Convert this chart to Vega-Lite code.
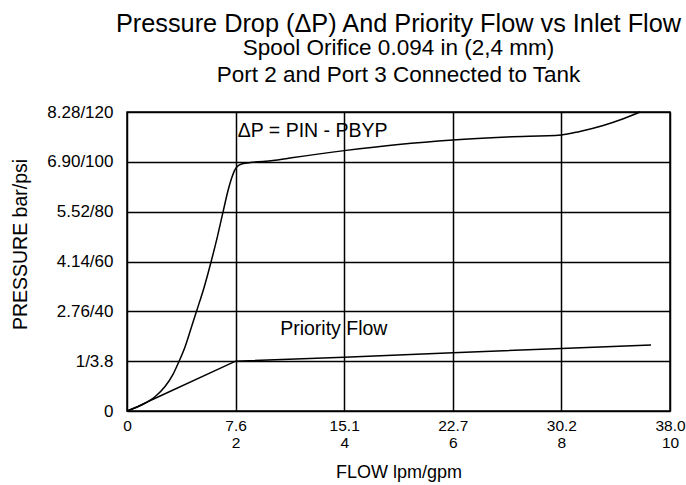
{
  "$schema": "https://vega.github.io/schema/vega-lite/v6.json",
  "width": 543,
  "height": 299,
  "autosize": {"type": "none"},
  "padding": {"left": 127, "top": 112, "right": 16, "bottom": 74},
  "background": "white",
  "config": {
    "font": "Liberation Sans",
    "view": {"stroke": "black", "strokeWidth": 1.5}
  },
  "title": {
    "text": "Pressure Drop (ΔP) And Priority Flow vs Inlet Flow",
    "subtitle": ["Spool Orifice 0.094 in (2,4 mm)", "Port 2 and Port 3 Connected to Tank"],
    "font": "Liberation Sans",
    "subtitleFont": "Liberation Sans",
    "fontSize": 25.3,
    "fontWeight": "normal",
    "subtitleFontSize": 22.5,
    "subtitleLineHeight": 26,
    "subtitlePadding": 0,
    "color": "black",
    "subtitleColor": "black",
    "anchor": "middle",
    "offset": 17
  },
  "datasets": {
    "dp": [
      {"gpm": 0, "psi": 0}, {"gpm": 0.17, "psi": 1.4}, {"gpm": 0.33, "psi": 3.1},
      {"gpm": 0.52, "psi": 5.8}, {"gpm": 0.7, "psi": 9.8}, {"gpm": 0.85, "psi": 14.8},
      {"gpm": 0.96, "psi": 20}, {"gpm": 1.07, "psi": 25.8}, {"gpm": 1.17, "psi": 32.5},
      {"gpm": 1.28, "psi": 40}, {"gpm": 1.425, "psi": 50}, {"gpm": 1.55, "psi": 60},
      {"gpm": 1.665, "psi": 70}, {"gpm": 1.77, "psi": 80}, {"gpm": 1.855, "psi": 88},
      {"gpm": 1.92, "psi": 93}, {"gpm": 1.98, "psi": 96.5}, {"gpm": 2.04, "psi": 98.3},
      {"gpm": 2.12, "psi": 99.2}, {"gpm": 2.3, "psi": 99.8}, {"gpm": 2.69, "psi": 100.5},
      {"gpm": 3, "psi": 101.5}, {"gpm": 4, "psi": 104.5}, {"gpm": 5, "psi": 107},
      {"gpm": 6, "psi": 108.8}, {"gpm": 7, "psi": 110}, {"gpm": 8, "psi": 110.8},
      {"gpm": 8.34, "psi": 112.2}, {"gpm": 8.77, "psi": 114.6}, {"gpm": 9.14, "psi": 117.3},
      {"gpm": 9.45, "psi": 120}
    ],
    "pf": [
      {"gpm": 0, "psi": 0}, {"gpm": 0.2, "psi": 1.8}, {"gpm": 0.45, "psi": 4.4},
      {"gpm": 2, "psi": 20}, {"gpm": 4, "psi": 21.6}, {"gpm": 6, "psi": 23.4},
      {"gpm": 8, "psi": 25.1}, {"gpm": 9.65, "psi": 26.5}
    ],
    "notes": [
      {"gpm": 2.04, "psi": 112.4, "label": "ΔP = PIN - PBYP"},
      {"gpm": 2.82, "psi": 32.9, "label": "Priority Flow"}
    ]
  },
  "layer": [
    {
      "data": {"name": "dp"},
      "mark": {"type": "line", "color": "black", "strokeWidth": 1.5, "interpolate": "monotone"},
      "encoding": {
        "x": {
          "field": "gpm", "type": "quantitative",
          "scale": {"domain": [0, 10], "nice": false},
          "axis": {
            "title": "FLOW lpm/gpm",
            "values": [0, 2, 4, 6, 8, 10],
            "labelExpr": "datum.value == 0 ? '0' : datum.value == 2 ? ['7.6', '2'] : datum.value == 4 ? ['15.1', '4'] : datum.value == 6 ? ['22.7', '6'] : datum.value == 8 ? ['30.2', '8'] : ['38.0', '10']",
            "grid": true, "gridColor": "black", "gridWidth": 1.5, "gridOpacity": 1,
            "ticks": false, "domain": false,
            "labelFont": "Liberation Sans", "labelFontSize": 15.5, "labelColor": "black",
            "labelPadding": 7, "labelLineHeight": 17, "labelFlush": false, "labelOverlap": false, "labelBound": false,
            "titleFont": "Liberation Sans", "titleFontSize": 18, "titleFontWeight": "normal", "titleColor": "black",
            "titlePadding": 13
          }
        },
        "y": {
          "field": "psi", "type": "quantitative",
          "scale": {"domain": [0, 120], "nice": false},
          "axis": {
            "title": "PRESSURE bar/psi",
            "values": [0, 20, 40, 60, 80, 100, 120],
            "labelExpr": "datum.value == 0 ? '0' : datum.value == 20 ? '1/3.8' : datum.value == 40 ? '2.76/40' : datum.value == 60 ? '4.14/60' : datum.value == 80 ? '5.52/80' : datum.value == 100 ? '6.90/100' : '8.28/120'",
            "grid": true, "gridColor": "black", "gridWidth": 1.5, "gridOpacity": 1,
            "ticks": false, "domain": false,
            "labelFont": "Liberation Sans", "labelFontSize": 17, "labelColor": "black",
            "labelPadding": 14, "labelOverlap": false, "labelBound": false, "labelFlush": false,
            "titleFont": "Liberation Sans", "titleFontSize": 19.5, "titleFontWeight": "normal", "titleColor": "black",
            "titlePadding": 16, "titleY": 132
          }
        }
      }
    },
    {
      "data": {"name": "pf"},
      "mark": {"type": "line", "color": "black", "strokeWidth": 1.5},
      "encoding": {
        "x": {"field": "gpm", "type": "quantitative"},
        "y": {"field": "psi", "type": "quantitative"}
      }
    },
    {
      "data": {"name": "notes"},
      "mark": {"type": "text", "align": "left", "baseline": "middle", "fontSize": 19.5, "color": "black", "font": "Liberation Sans"},
      "encoding": {
        "x": {"field": "gpm", "type": "quantitative"},
        "y": {"field": "psi", "type": "quantitative"},
        "text": {"field": "label"}
      }
    }
  ]
}
